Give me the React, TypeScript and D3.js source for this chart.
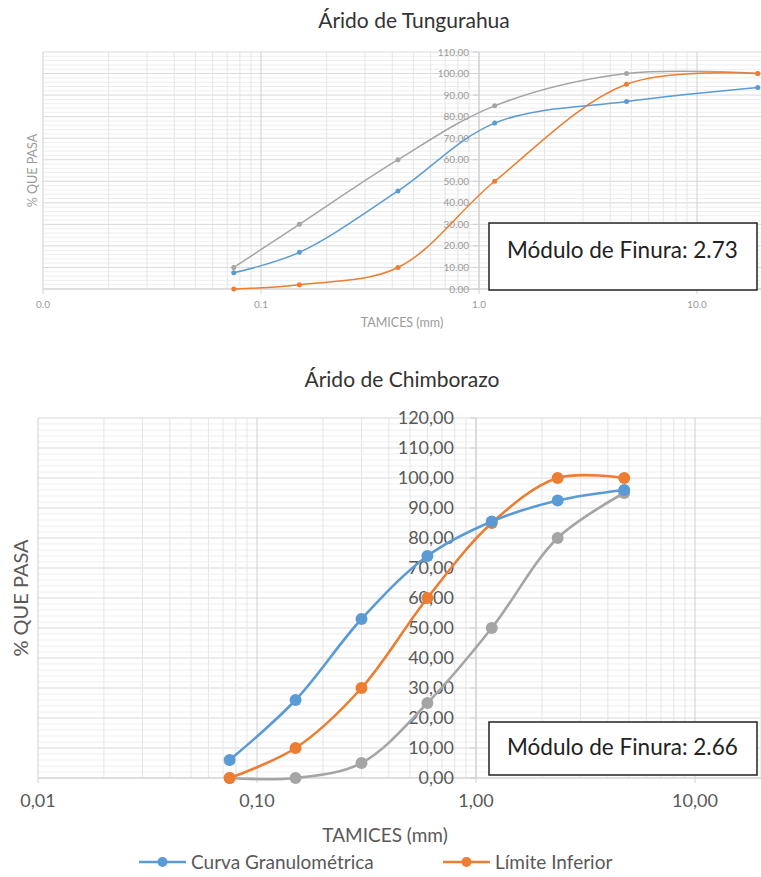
import * as d3 from 'd3';
import React from 'react';

// sieve openings (mm) and % passing
const tungSieves = [0.075, 0.15, 0.425, 1.18, 4.75, 19];
const tungCurva = [7.5, 17, 45.5, 77, 87, 93.5];
const tungInferior = [0, 2, 10, 50, 95, 100];
const tungSuperior = [10, 30, 60, 85, 100, 100];

const chimSieves = [0.075, 0.15, 0.3, 0.6, 1.18, 2.36, 4.75];
const chimCurva = [6, 26, 53, 74, 85.5, 92.5, 96];
const chimInferior = [0, 10, 30, 60, 85, 100, 100];
const chimSuperior = [0, 0, 5, 25, 50, 80, 95];

const xTicks = [0.01, 0.1, 1, 10];
const yTicks = [0, 10, 20, 30, 40, 50, 60, 70, 80, 90, 100, 110, 120];

const seriesNames = ['Curva Granulométrica', 'Límite Inferior', 'Límite Superior'];
const colors = ['#5b9bd5', '#ed7d31', '#a5a5a5'];

const FONT = 'Lato, "Open Sans", sans-serif';

type ChartProps = {
  title: string;
  sieves: number[];
  series: number[][];
  left: number; top: number; bottom: number; decade: number;
  yMax: number;
  small: boolean;
  titleY: number; titleX: number; titleSize: number;
};

const Chart = (p: ChartProps) => {
  const right = p.left + p.decade * Math.log10(20 / 0.01);
  const x = d3.scaleLog().domain([0.01, 20]).range([p.left, right]);
  const y = d3.scaleLinear().domain([0, p.yMax]).range([p.bottom, p.top]);
  const fs = p.small ? 10 : 18;
  const axisFs = p.small ? 12.5 : 19;
  const tickCol = p.small ? '#9a9a9a' : '#595959';
  const fmtY = (v: number) => p.small ? v.toFixed(2) : v.toFixed(2).replace('.', ',');
  const fmtX = (v: number) => p.small ? (v < 0.1 ? '0.0' : v.toFixed(1)) : v.toFixed(2).replace('.', ',');

  const minorX: number[] = [];
  for (let e = -2; e <= 1; e++) for (let k = 1; k <= 9; k++) {
    const v = k * Math.pow(10, e);
    if (v <= 20) minorX.push(v);
  }
  const minorY = d3.range(0, p.yMax + 0.1, 2);
  const ys = yTicks.filter((v) => v <= p.yMax);

  const line = d3.line<[number, number]>()
    .x((d) => x(d[0]))
    .y((d) => y(d[1]))
    .curve(d3.curveCatmullRom.alpha(0.5));

  const axX = x(1);
  const r = p.small ? 2.5 : 6;
  const sw = p.small ? 1.5 : 2.6;
  // draw gray first, then orange, then blue on top
  const order = [2, 1, 0];

  return (
    <g fontFamily={FONT}>
      <text x={p.titleX} y={p.titleY} textAnchor="middle" fontSize={p.titleSize} fill="#333">{p.title}</text>
      {minorY.map((v) => (
        <line key={'hy' + v} x1={p.left} x2={right} y1={y(v)} y2={y(v)}
          stroke={v % 10 === 0 ? '#d9d9d9' : '#efefef'} strokeWidth={1} />
      ))}
      {minorX.map((v) => (
        <line key={'vx' + v} x1={x(v)} x2={x(v)} y1={p.top} y2={p.bottom}
          stroke={xTicks.includes(v) ? '#d0d0d0' : '#e6e6e6'} strokeWidth={1} />
      ))}
      <line x1={p.left} x2={right} y1={p.bottom} y2={p.bottom} stroke="#d0d0d0" />
      <line x1={axX} x2={axX} y1={p.top} y2={p.bottom} stroke="#d0d0d0" />
      {ys.map((v) => (
        <g key={'yt' + v}>
          <line x1={axX - 6} x2={axX} y1={y(v)} y2={y(v)} stroke="#d0d0d0" />
          <text x={axX - (p.small ? 10 : 22)} y={y(v)} dy="0.35em" textAnchor="end" fontSize={fs} fill={tickCol}>{fmtY(v)}</text>
        </g>
      ))}
      {xTicks.map((v) => (
        <g key={'xt' + v}>
          <line x1={x(v)} x2={x(v)} y1={p.bottom} y2={p.bottom + 5} stroke="#d0d0d0" />
          <text x={x(v)} y={p.bottom + (p.small ? 19 : 29)} textAnchor="middle" fontSize={fs} fill={tickCol}>{fmtX(v)}</text>
        </g>
      ))}
      <text transform={`translate(${p.small ? 37 : 28},${(p.top + p.bottom) / 2}) rotate(-90)`}
        textAnchor="middle" fontSize={p.small ? axisFs : 20} fill={tickCol}>% QUE PASA</text>
      <text x={p.small ? 402 : 385} y={p.bottom + (p.small ? 38 : 64)} textAnchor="middle"
        fontSize={axisFs} fill={tickCol}>TAMICES (mm)</text>
      {order.map((si) => {
        const pts: [number, number][] = p.sieves.map((s, i) => [s, p.series[si][i]]);
        return (
          <g key={'s' + si}>
            <path d={line(pts) || ''} fill="none" stroke={colors[si]} strokeWidth={sw} />
            {pts.map((d, i) => (
              <circle key={i} cx={x(d[0])} cy={y(d[1])} r={r} fill={colors[si]} />
            ))}
          </g>
        );
      })}
    </g>
  );
};

const App = () => {
  return (
    <div style={{ position: 'absolute', left: 0, top: 0 }}>
      <svg width={761} height={877} style={{ display: 'block', background: '#fff' }}>
        <Chart title="Árido de Tungurahua" sieves={tungSieves}
          series={[tungCurva, tungInferior, tungSuperior]}
          left={43} top={52} bottom={289} decade={218} yMax={110} small={true}
          titleX={414} titleY={28} titleSize={21} />
        <rect x={489} y={223} width={268} height={67} fill="#fff" stroke="#222" strokeWidth={1.5} />
        <text x={507} y={258} fontFamily={FONT} fontSize={22.5} fill="#222">Módulo de Finura: 2.73</text>

        <Chart title="Árido de Chimborazo" sieves={chimSieves}
          series={[chimCurva, chimInferior, chimSuperior]}
          left={38} top={418} bottom={778} decade={219} yMax={120} small={false}
          titleX={402} titleY={387} titleSize={21} />
        <rect x={489} y={722} width={268} height={53} fill="#fff" stroke="#222" strokeWidth={1.5} />
        <text x={507} y={755} fontFamily={FONT} fontSize={22.5} fill="#222">Módulo de Finura: 2.66</text>

        {/* legend */}
        <g fontFamily={FONT} fontSize={19} fill="#595959">
          {[0, 1].map((i) => {
            const lx = i === 0 ? 139 : 443;
            return (
              <g key={'lg' + i}>
                <line x1={lx} x2={lx + 47} y1={862} y2={862} stroke={colors[i]} strokeWidth={2.6} />
                <circle cx={lx + 23.5} cy={862} r={5} fill={colors[i]} />
                <text x={lx + 52} y={862} dy="0.35em">{seriesNames[i]}</text>
              </g>
            );
          })}
        </g>
      </svg>
    </div>
  );
};

export default App;
